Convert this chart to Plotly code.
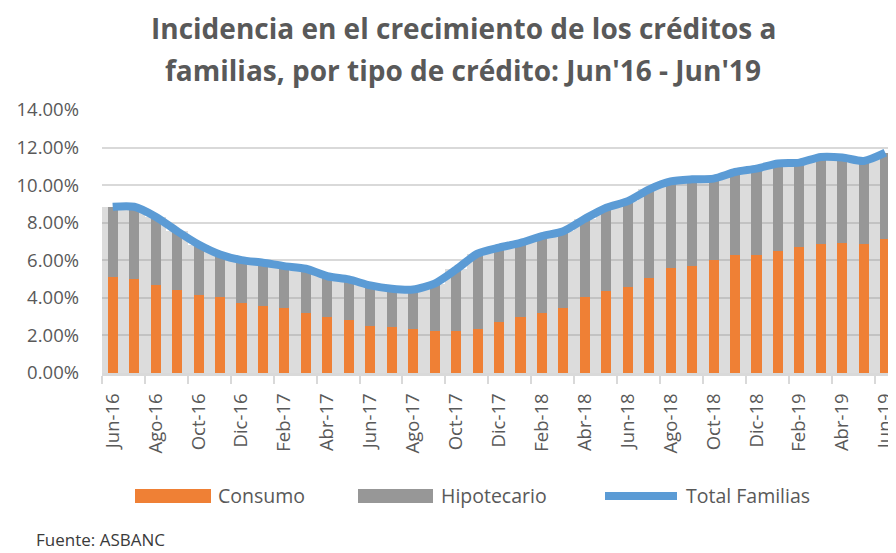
import plotly.graph_objects as go

months = ["Jun-16", "Jul-16", "Ago-16", "Sep-16", "Oct-16", "Nov-16", "Dic-16",
          "Ene-17", "Feb-17", "Mar-17", "Abr-17", "May-17", "Jun-17", "Jul-17",
          "Ago-17", "Sep-17", "Oct-17", "Nov-17", "Dic-17", "Ene-18", "Feb-18",
          "Mar-18", "Abr-18", "May-18", "Jun-18", "Jul-18", "Ago-18", "Sep-18",
          "Oct-18", "Nov-18", "Dic-18", "Ene-19", "Feb-19", "Mar-19", "Abr-19",
          "May-19", "Jun-19"]

consumo = [5.10, 4.99, 4.67, 4.41, 4.16, 4.05, 3.73, 3.55, 3.47, 3.20, 2.97, 2.84,
           2.52, 2.43, 2.35, 2.26, 2.26, 2.35, 2.70, 2.97, 3.22, 3.47, 4.05, 4.39,
           4.57, 5.08, 5.60, 5.69, 6.01, 6.28, 6.28, 6.52, 6.72, 6.86, 6.93, 6.86, 7.15]

hipotecario = [3.75, 3.86, 3.65, 3.14, 2.68, 2.26, 2.28, 2.32, 2.22, 2.35, 2.18, 2.14,
               2.14, 2.05, 2.09, 2.50, 3.25, 4.00, 3.97, 3.96, 4.07, 4.08, 4.16, 4.41,
               4.58, 4.70, 4.60, 4.62, 4.34, 4.42, 4.60, 4.63, 4.48, 4.64, 4.54, 4.43, 4.58]

total_familias = [8.85, 8.85, 8.32, 7.55, 6.84, 6.31, 6.01, 5.87, 5.69, 5.55, 5.15, 4.98,
                  4.66, 4.48, 4.44, 4.76, 5.51, 6.35, 6.67, 6.93, 7.29, 7.55, 8.21, 8.80,
                  9.15, 9.78, 10.20, 10.31, 10.35, 10.70, 10.88, 11.15, 11.20, 11.50, 11.47,
                  11.29, 11.73]

title_lines = ["Incidencia en el crecimiento de los créditos a",
               "familias, por tipo de crédito: Jun'16 - Jun'19"]
series_names = ["Consumo", "Hipotecario", "Total Familias"]
source_text = "Fuente: ASBANC"

ORANGE = "#EF8035"
GREY = "#979797"
BLUE = "#5B9BD5"
TXT = "#595959"
FONT = "Open Sans"

fig = go.Figure()

# light shadow behind the bars
fig.add_trace(go.Bar(x=months, y=total_familias, width=1.0,
                     marker=dict(color="rgba(150,150,150,0.33)", line=dict(width=0)),
                     showlegend=False, hoverinfo="skip"))
fig.add_trace(go.Bar(x=months, y=consumo, name=series_names[0], width=0.47,
                     marker=dict(color=ORANGE, line=dict(width=0)), showlegend=False))
fig.add_trace(go.Bar(x=months, y=hipotecario, base=consumo, name=series_names[1], width=0.47,
                     marker=dict(color=GREY, line=dict(width=0)), showlegend=False))
fig.add_trace(go.Scatter(x=months, y=total_familias, name=series_names[2], mode="lines",
                         line=dict(color=BLUE, width=8, shape="spline", smoothing=0.7),
                         showlegend=False))

# page body has an 8px margin: figure drawn from (8, 8) in the window
OFF = 8
W, H = 896 - OFF, 553 - OFF
L, R, T = 102 - OFF, 0, 110 - OFF
B = H - (373 - OFF)
pw, ph = W - L - R, H - T - B


def px(xw):
    return (xw - OFF - L) / pw


def py(yw):
    return (H - B - (yw - OFF)) / ph


shapes = [
    dict(type="rect", xref="paper", yref="paper", x0=px(135), x1=px(211), y0=py(503), y1=py(489),
         fillcolor=ORANGE, line=dict(width=0)),
    dict(type="rect", xref="paper", yref="paper", x0=px(358), x1=px(433), y0=py(503), y1=py(489),
         fillcolor=GREY, line=dict(width=0)),
    dict(type="line", xref="paper", yref="paper", x0=px(605), x1=px(677), y0=py(496), y1=py(496),
         line=dict(color=BLUE, width=8)),
]

leg_font = dict(family=FONT, size=19.5, color=TXT)
annotations = [
    dict(text=series_names[0], x=px(216), y=py(496), xref="paper", yref="paper",
         xanchor="left", yanchor="middle", showarrow=False, font=leg_font),
    dict(text=series_names[1], x=px(439), y=py(496), xref="paper", yref="paper",
         xanchor="left", yanchor="middle", showarrow=False, font=leg_font),
    dict(text=series_names[2], x=px(684), y=py(496), xref="paper", yref="paper",
         xanchor="left", yanchor="middle", showarrow=False, font=leg_font),
    dict(text=source_text, x=px(34), y=py(552.5), xref="paper", yref="paper",
         xanchor="left", yanchor="bottom", showarrow=False,
         font=dict(family=FONT, size=17, color="#3a3a3a")),
    dict(text="<b>" + title_lines[0] + "</b>", x=px(463), y=py(28), xref="paper", yref="paper",
         xanchor="center", yanchor="middle", showarrow=False,
         font=dict(family=FONT, size=28, color=TXT)),
    dict(text="<b>" + title_lines[1] + "</b>", x=px(463), y=py(70), xref="paper", yref="paper",
         xanchor="center", yanchor="middle", showarrow=False,
         font=dict(family=FONT, size=28, color=TXT)),
]

fig.update_layout(
    width=W, height=H,
    margin=dict(l=L, r=R, t=T, b=B),
    paper_bgcolor="white", plot_bgcolor="white",
    barmode="overlay", bargap=0,
    shapes=shapes, annotations=annotations,
    showlegend=False,
)

fig.update_yaxes(range=[0, 14], tickmode="linear", tick0=0, dtick=2,
                 tickformat=".2f", ticksuffix="%",
                 showgrid=True, gridcolor="#d9d9d9", gridwidth=2,
                 zeroline=False, showline=False, ticks="",
                 ticklabelstandoff=22,
                 tickfont=dict(family=FONT, size=18.5, color=TXT))

fig.update_xaxes(type="category", tickmode="linear", tick0=0, dtick=2,
                 tickson="boundaries", ticks="outside", ticklen=8, tickwidth=2, tickcolor="#d9d9d9",
                 showline=True, linecolor="#d9d9d9", linewidth=3,
                 showgrid=False, tickangle=-90, ticklabelstandoff=10,
                 tickfont=dict(family=FONT, size=18.5, color=TXT))

fig.write_html("out.html")
